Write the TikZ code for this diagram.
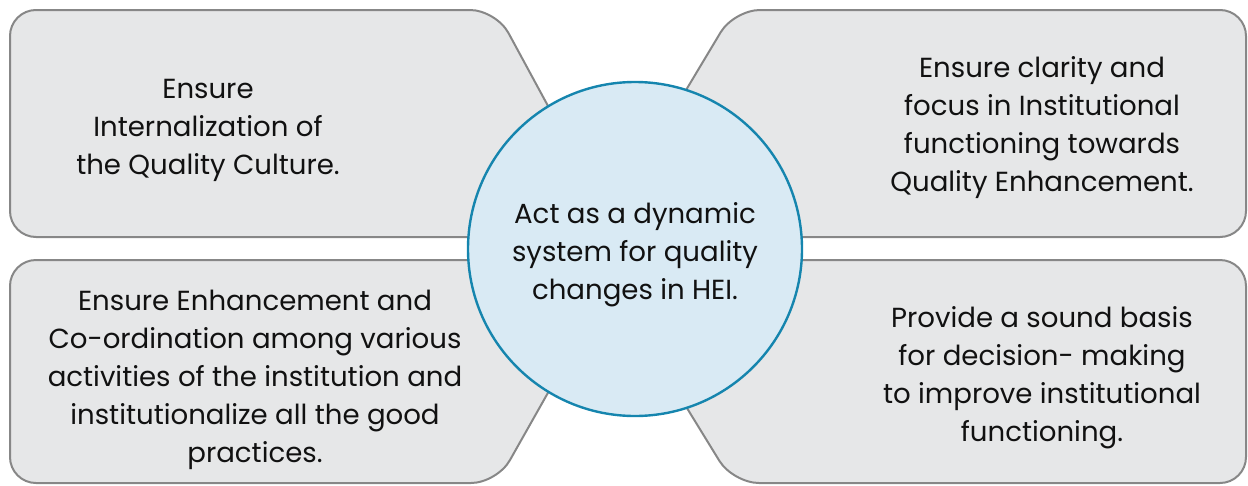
\documentclass[tikz,border=0pt]{standalone}
\usepackage{fontspec}
\setmainfont{Poppins}
\definecolor{boxfill}{HTML}{E6E7E8}
\definecolor{boxline}{HTML}{878787}
\definecolor{circfill}{HTML}{D9EAF4}
\definecolor{circline}{HTML}{1585AE}
\definecolor{txt}{HTML}{111111}
\tikzset{
  boxshape/.style={fill=boxfill, draw=boxline, line width=2pt, rounded corners=26pt},
  boxtext/.style={align=center, text=txt, font=\fontsize{27.6}{38}\selectfont, inner sep=0pt},
  hub/.style={circle, fill=circfill, draw=circline, line width=2.4pt, minimum size=334pt, inner sep=0pt}
}
\begin{document}
\begin{tikzpicture}[x=1pt, y=-1pt]
\useasboundingbox (0,0) rectangle (1248,485);
% boxes
\draw[boxshape] (619,237) -- (10,237) -- (10,10) -- (496,10) -- cycle;
\draw[boxshape] (598,237) -- (734,10) -- (1246,10) -- (1246,237) -- cycle;
\draw[boxshape] (623,260) -- (497,483) -- (10,483) -- (10,260) -- cycle;
\draw[boxshape] (596,260) -- (1246,260) -- (1246,483) -- (733,483) -- cycle;
% hub
\node[hub] (hub) at (635,249) {};
% texts
\node[boxtext] (tl) at (208,130) {Ensure\\Internalization of\\the Quality Culture.};
\node[boxtext] (tr) at (1042,128) {Ensure clarity and\\focus in Institutional\\functioning towards\\Quality Enhancement.};
\node[boxtext] (bl) at (255,380) {Ensure Enhancement and\\Co-ordination among various\\activities of the institution and\\institutionalize all the good\\practices.};
\node[boxtext] (br) at (1042,378) {Provide a sound basis\\for decision- making\\to improve institutional\\functioning.};
\node[boxtext] (ct) at (hub.center) [yshift=-6pt] {Act as a dynamic\\system for quality\\changes in HEI.};
\end{tikzpicture}
\end{document}
